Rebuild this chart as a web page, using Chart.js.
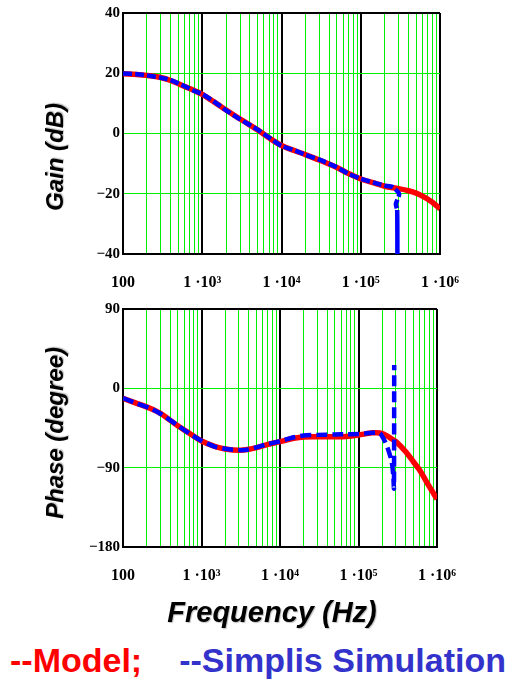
<!DOCTYPE html>
<html>
<head>
<meta charset="utf-8">
<script src="https://cdn.jsdelivr.net/npm/chart.js@4.4.1/dist/chart.umd.min.js"></script>
<style>
  html, body { margin: 0; padding: 0; background: #fff; }
  body { width: 512px; height: 684px; position: relative; overflow: hidden; }
  canvas { position: absolute; left: 0; }
  .ytitle {
    position: absolute; white-space: nowrap; color: #000;
    font: italic bold 24px "Liberation Sans", Arial, sans-serif;
    transform: translate(-50%, -50%) rotate(-90deg);
    text-shadow: 1px 1px 1px rgba(0,0,0,0.25);
  }
  #xtitle {
    position: absolute; left: 272px; top: 612px; white-space: nowrap; color: #000;
    font: italic bold 29px "Liberation Sans", Arial, sans-serif;
    transform: translate(-50%, -50%);
    text-shadow: 1px 1px 1px rgba(0,0,0,0.25);
  }
  #legend {
    position: absolute; left: 10px; top: 660px; white-space: nowrap;
    font: bold 34px "Liberation Sans", Arial, sans-serif;
    transform: translateY(-50%);
  }
  #legend .m { color: #ff0000; }
  #legend .s { color: #3333cc; margin-left: 37px; }
</style>
</head>
<body>
<canvas id="gain" width="512" height="300" style="top:0px"></canvas>
<canvas id="phase" width="512" height="300" style="top:296px"></canvas>
<div class="ytitle" style="left:55px; top:157px;">Gain (dB)</div>
<div class="ytitle" style="left:55px; top:433px;">Phase (degree)</div>
<div id="xtitle">Frequency (Hz)</div>
<div id="legend"><span class="m">--Model;</span><span class="s">--Simplis Simulation</span></div>

<script>
// Frequency axis (Hz) and decade labels
const decades = [100, 1e3, 1e4, 1e5, 1e6];
const decadeLabels = ['100', '1 ·10³', '1 ·10⁴', '1 ·10⁵', '1 ·10⁶'];
const gainTicks = [-40, -20, 0, 20, 40];
const phaseTicks = [-180, -90, 0, 90];

// Model: loop gain magnitude (dB)
const modelGainFreq = [100, 150, 200, 300, 400, 600, 800, 1000, 1500, 2000, 3000, 5000, 7000,
  10000, 15000, 20000, 30000, 50000, 70000, 100000, 150000, 200000, 300000, 400000,
  500000, 600000, 800000, 1000000];
const modelGain = [19.8, 19.6, 19.3, 18.6, 17.6, 15.6, 14.2, 13.0, 10.0, 7.8, 4.8, 1.2, -1.5,
  -4.0, -5.8, -7.0, -8.8, -11.3, -13.3, -15.1, -16.5, -17.5, -18.3, -19.0,
  -19.8, -20.8, -22.8, -25.0];

// SIMPLIS simulation: magnitude (dB)
const simGainFreq = [100, 150, 200, 300, 400, 600, 800, 1000, 1500, 2000, 3000, 5000, 7000,
  10000, 15000, 20000, 30000, 50000, 70000, 100000, 150000, 200000, 256000, 305000,
  277000, 288000, 290000];
const simGain = [19.9, 19.7, 19.3, 18.5, 17.7, 15.7, 14.1, 13.1, 10.1, 7.7, 4.7, 1.3, -1.4,
  -4.1, -5.7, -7.1, -8.7, -11.2, -13.4, -15.0, -16.4, -17.3, -17.8, -20.1,
  -23.4, -25.4, -40];

// Model: phase (degree)
const modelPhaseFreq = [100, 150, 221, 300, 483, 700, 1000, 1500, 2000, 3000, 4000, 5000, 7000,
  10000, 15000, 20000, 30000, 50000, 70000, 100000, 150000, 200000, 250000, 300000,
  400000, 500000, 600000, 800000, 1000000];
const modelPhase = [-11.3, -17, -22.7, -28.5, -41.6, -51, -59.8, -66.2, -68.8, -70.3, -69.2, -67.3, -63.5,
  -60.5, -56.7, -55.1, -54.9, -54.9, -54.6, -53, -50.5, -51, -56, -60.5,
  -71.9, -83.3, -92.7, -111.6, -125.6];

// SIMPLIS simulation: phase (degree)
const simPhaseFreq = [100, 150, 221, 300, 483, 700, 1000, 1500, 2000, 3000, 4000, 5000, 7000,
  10000, 15000, 20000, 30000, 50000, 70000, 100000, 150000, 188000, 218000, 240000,
  265000, 277000, 283000, 285000];
const simPhase = [-11, -17.2, -22.5, -28.8, -41.3, -51.2, -59.5, -66.4, -68.6, -70.1, -69.4, -67.0, -63.2,
  -60.0, -55.5, -53.4, -52.8, -52.3, -52.0, -51.8, -50.5, -51, -60.5, -70,
  -83.3, -98.4, -113.5, 26.5];

const GREEN = '#00ee00';
const isDecade = v => Math.abs(Math.log10(v) - Math.round(Math.log10(v))) < 1e-9;
const pts = (xs, ys) => xs.map((x, i) => ({ x, y: ys[i] }));
const signed = v => (v < 0 ? '\u2212' + Math.abs(v) : String(v));

function freqAxis() {
  return {
    type: 'logarithmic', min: 100, max: 1e6,
    afterBuildTicks(scale) {
      const t = [];
      for (let d = 100; d < 1e6; d *= 10)
        for (let m = 1; m < 10; m++) t.push({ value: d * m });
      t.push({ value: 1e6 });
      scale.ticks = t;
    },
    afterFit(scale) { scale.height = 40; },
    grid: {
      drawTicks: false,
      color: ctx => (ctx.tick && isDecade(ctx.tick.value) ? '#000' : GREEN),
      lineWidth: ctx => (ctx.tick && isDecade(ctx.tick.value) ? 2 : 1)
    },
    border: { display: true, color: '#000', width: 2 },
    ticks: {
      autoSkip: false, maxRotation: 0, minRotation: 0, padding: 19, color: '#000',
      font: { family: '"Liberation Serif", "Times New Roman", serif', weight: 'bold', size: 16 },
      callback: v => {
        const i = decades.findIndex(d => Math.abs(d - v) / d < 1e-9);
        return i >= 0 ? decadeLabels[i] : '';
      }
    }
  };
}

function valueAxis(ticks) {
  const lo = ticks[0], hi = ticks[ticks.length - 1];
  return {
    type: 'linear', min: lo, max: hi,
    afterBuildTicks(scale) { scale.ticks = ticks.map(v => ({ value: v })); },
    afterFit(scale) { scale.width = 40; },
    grid: {
      drawTicks: false,
      color: ctx => (ctx.tick && (ctx.tick.value === lo || ctx.tick.value === hi) ? '#000' : GREEN),
      lineWidth: ctx => (ctx.tick && (ctx.tick.value === lo || ctx.tick.value === hi) ? 2 : 1)
    },
    border: { display: true, color: '#000', width: 2 },
    ticks: {
      padding: 3, color: '#000',
      font: { family: '"Liberation Serif", "Times New Roman", serif', weight: 'bold', size: 15 },
      callback: v => signed(v)
    }
  };
}

function bodePlot(id, model, sim, ticks, pad, dash) {
  new Chart(document.getElementById(id), {
    type: 'line',
    data: {
      datasets: [
        {
          label: 'Simplis Simulation', data: sim, order: 0,
          borderColor: '#0000ff', borderWidth: 4.5, borderDash: dash,
          pointRadius: 0, tension: 0.2, fill: false,
          segment: { borderDash: c => (c.p1DataIndex === sim.length - 1 && id === 'gain' ? [] : dash) }
        },
        {
          label: 'Model', data: model, order: 1,
          borderColor: '#ff0000', borderWidth: 5.5,
          pointRadius: 0, tension: 0.3, fill: false
        }
      ]
    },
    options: {
      responsive: false, animation: false, devicePixelRatio: 1,
      layout: { padding: pad },
      plugins: { legend: { display: false }, tooltip: { enabled: false } },
      scales: { x: freqAxis(), y: valueAxis(ticks) }
    }
  });
}

bodePlot('gain', pts(modelGainFreq, modelGain), pts(simGainFreq, simGain), gainTicks,
  { left: 83, top: 13, right: 72, bottom: 6 }, [9, 3]);
bodePlot('phase', pts(modelPhaseFreq, modelPhase), pts(simPhaseFreq, simPhase), phaseTicks,
  { left: 83, top: 13, right: 75, bottom: 9 }, [11, 5]);
</script>
</body>
</html>
